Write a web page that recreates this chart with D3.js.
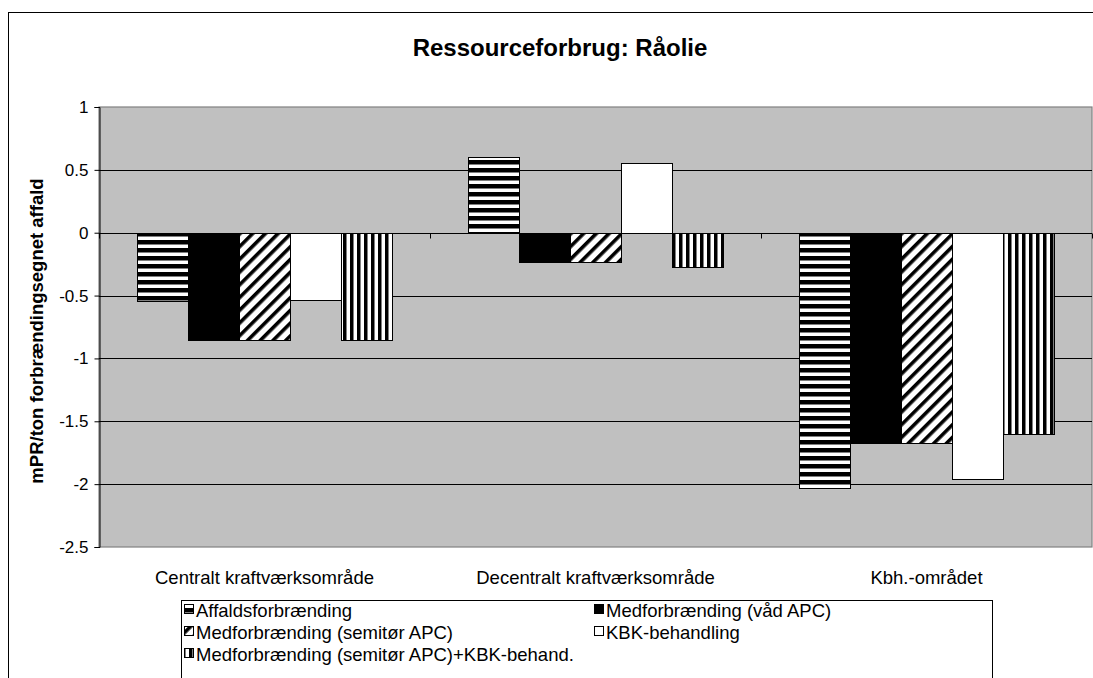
<!DOCTYPE html>
<html><head><meta charset="utf-8">
<script src="https://cdn.jsdelivr.net/npm/d3@7"></script>
<style>body{margin:0;background:#fff;} svg{display:block;font-family:Arial,"Liberation Sans",sans-serif;}</style>
</head><body>
<svg id="chart" width="1093" height="678"></svg>
<script>
const title = "Ressourceforbrug: Råolie";
const yTitle = "mPR/ton forbrændingsegnet affald";
const categories = ["Centralt kraftværksområde", "Decentralt kraftværksområde", "Kbh.-området"];
const seriesNames = ["Affaldsforbrænding", "Medforbrænding (våd APC)", "Medforbrænding (semitør APC)", "KBK-behandling", "Medforbrænding (semitør APC)+KBK-behand."];
const affald = [-0.54, 0.6, -2.03];
const vaad = [-0.85, -0.23, -1.67];
const semitoer = [-0.85, -0.23, -1.67];
const kbk = [-0.53, 0.555, -1.96];
const semiKbk = [-0.85, -0.27, -1.6];
const yTicks = [1, 0.5, 0, -0.5, -1, -1.5, -2, -2.5];
const yTickLabels = ["1", "0.5", "0", "-0.5", "-1", "-1.5", "-2", "-2.5"];

const seriesValues = [affald, vaad, semitoer, kbk, semiKbk];
const fills = ["url(#hstripe)", "#000", "url(#diag)", "#fff", "url(#vstripe)"];
const FS = 18.5;

const svg = d3.select("#chart");
const defs = svg.append("defs");
let p = defs.append("pattern").attr("id","hstripe").attr("patternUnits","userSpaceOnUse").attr("width",8).attr("height",8);
p.append("rect").attr("width",8).attr("height",8).attr("fill","#fff");
p.append("rect").attr("y",0).attr("width",8).attr("height",4.5).attr("fill","#000");
p = defs.append("pattern").attr("id","vstripe").attr("patternUnits","userSpaceOnUse").attr("width",7).attr("height",7);
p.append("rect").attr("width",7).attr("height",7).attr("fill","#fff");
p.append("rect").attr("x",0).attr("width",3.5).attr("height",7).attr("fill","#000");
p = defs.append("pattern").attr("id","diag").attr("patternUnits","userSpaceOnUse").attr("width",9).attr("height",9).attr("patternTransform","rotate(45)");
p.append("rect").attr("width",9).attr("height",9).attr("fill","#fff");
p.append("rect").attr("x",0).attr("width",3.6).attr("height",9).attr("fill","#000");

svg.append("rect").attr("x",8.5).attr("y",12.5).attr("width",1100).attr("height",700).attr("fill","#fff").attr("stroke","#000").attr("stroke-width",1);

const L = 99, R = 1092, T = 107, B = 547;
const x0 = d3.scaleBand().domain(categories).range([L, R]).paddingInner(0).paddingOuter(0);
const x1 = d3.scaleBand().domain(d3.range(seriesNames.length)).range([0, x0.bandwidth()]).paddingInner(0).paddingOuter(0.75);
const y = d3.scaleLinear().domain([-2.5, 1]).range([B, T]);

svg.append("rect").attr("x",L).attr("y",T).attr("width",R-L).attr("height",B-T).attr("fill","#c0c0c0").attr("stroke","#808080").attr("stroke-width",1.2);

svg.append("g").selectAll("line").data(yTicks.filter(d=>d!==1 && d!==-2.5)).join("line")
  .attr("x1",L).attr("x2",R).attr("y1",d=>Math.round(y(d))+0.5).attr("y2",d=>Math.round(y(d))+0.5)
  .attr("stroke","#000").attr("stroke-width",1);

const g = svg.append("g");
categories.forEach((c, ci) => {
  seriesValues.forEach((vals, si) => {
    const v = vals[ci];
    const x = x0(c) + x1(si);
    g.append("rect")
      .attr("x", Math.round(x)+0.5)
      .attr("y", Math.round(y(Math.max(0, v)))+0.5)
      .attr("width", Math.round(x1.bandwidth()))
      .attr("height", Math.round(Math.abs(y(v) - y(0))))
      .attr("fill", fills[si]).attr("stroke","#000").attr("stroke-width",1);
  });
});

const yAxis = d3.axisLeft(y).tickValues(yTicks).tickFormat((d,i)=>yTickLabels[i]).tickSize(5).tickPadding(6);
const ya = svg.append("g").attr("transform",`translate(${L+0.5},0)`).call(yAxis);
ya.select(".domain").attr("stroke","#000");
ya.selectAll(".tick line").attr("stroke","#000");
ya.selectAll("text").attr("font-size",17).attr("fill","#000").attr("font-family","Arial, 'Liberation Sans', sans-serif");

const xa = svg.append("g").attr("transform",`translate(0,${Math.round(y(0))+0.5})`);
xa.append("line").attr("x1",L).attr("x2",R).attr("stroke","#000");
xa.selectAll("line.tk").data([L, ...categories.map(c=>x0(c)+x0.bandwidth())]).join("line").attr("class","tk")
  .attr("x1",d=>Math.round(d)+0.5).attr("x2",d=>Math.round(d)+0.5).attr("y1",0).attr("y2",5).attr("stroke","#000");

svg.append("g").selectAll("text").data(categories).join("text")
  .attr("x", d=>x0(d)+x0.bandwidth()/2).attr("y", 584)
  .attr("text-anchor","middle").attr("font-size",FS).text(d=>d);

svg.append("text").attr("x",560).attr("y",56).attr("text-anchor","middle").attr("font-size",24).attr("font-weight","bold").text(title);
svg.append("text").attr("transform","translate(43,331) rotate(-90)").attr("text-anchor","middle").attr("font-size",18.5).attr("font-weight","bold").text(yTitle);

const lg = svg.append("g");
lg.append("rect").attr("x",181.5).attr("y",600.5).attr("width",811).attr("height",100).attr("fill","#fff").attr("stroke","#000").attr("stroke-width",1);
const legPos = [[184,616],[594,616],[184,638],[594,638],[184,660]];
seriesNames.forEach((s,i)=>{
  const [lx,ly] = legPos[i];
  lg.append("rect").attr("x",lx+0.5).attr("y",ly-11.5).attr("width",9).attr("height",9).attr("fill",fills[i]).attr("stroke","#000");
  lg.append("text").attr("x",lx+12).attr("y",ly+1).attr("font-size",FS).text(s);
});
</script>
</body></html>
